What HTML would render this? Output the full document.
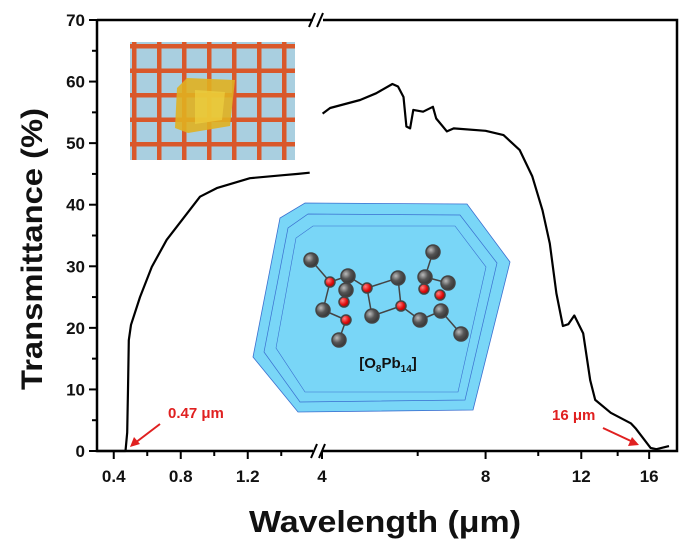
<!DOCTYPE html>
<html><head><meta charset="utf-8"><style>
body{margin:0;background:#fff}
svg text{font-family:"Liberation Sans",Arial,sans-serif;font-weight:bold}
</style></head><body>
<svg id="chart" width="685" height="542" viewBox="0 0 685 542" xmlns="http://www.w3.org/2000/svg">
<defs>
<pattern id="grid" x="130" y="42" width="25" height="24.5" patternUnits="userSpaceOnUse">
<rect width="25" height="24.5" fill="#a9cfe0"/>
<rect x="2" y="0" width="4.5" height="24.5" fill="#d9582a"/>
<rect x="0" y="2" width="25" height="4.5" fill="#d9582a"/>
</pattern>
<radialGradient id="ball" cx="0.35" cy="0.35" r="0.7"><stop offset="0" stop-color="#bbb"/><stop offset="0.5" stop-color="#555"/><stop offset="1" stop-color="#333"/></radialGradient>
<radialGradient id="oball" cx="0.35" cy="0.35" r="0.7"><stop offset="0" stop-color="#ff8080"/><stop offset="0.6" stop-color="#e01010"/><stop offset="1" stop-color="#a00"/></radialGradient>
</defs>
<g id="photo-inset">
<rect x="130" y="42" width="165" height="118" fill="url(#grid)"/>
<polygon points="187,78 235,80 230,126 188,133 175,128 177,88" fill="#e0b020" opacity="0.9"/>
<polygon points="195,90 225,92 222,120 195,124" fill="#eed040" opacity="0.7"/>
</g>
<g id="crystal">
<polygon points="305,203 467,204 510,262 473,410 298,412 253,357 280,218" fill="#79d6f7" stroke="#3a6fd0" stroke-width="0.8"/>
<polygon points="308,214 460,215 497,263 465,400 300,402 264,352 288,228" fill="none" stroke="#3a6fd0" stroke-width="0.7"/>
<polygon points="313,226 455,226 486,267 458,392 305,392 276,348 296,238" fill="none" stroke="#3a6fd0" stroke-width="0.6"/>
<g id="molecule" stroke="#444" stroke-width="1.5">
<line x1="311" y1="260" x2="330" y2="282"/><line x1="330" y1="282" x2="348" y2="276"/><line x1="330" y1="282" x2="323" y2="310"/><line x1="348" y1="276" x2="367" y2="288"/><line x1="367" y1="288" x2="398" y2="278"/><line x1="367" y1="288" x2="372" y2="316"/><line x1="372" y1="316" x2="401" y2="306"/><line x1="398" y1="278" x2="401" y2="306"/><line x1="401" y1="306" x2="420" y2="320"/><line x1="420" y1="320" x2="441" y2="311"/><line x1="441" y1="311" x2="461" y2="334"/><line x1="433" y1="252" x2="425" y2="277"/><line x1="425" y1="277" x2="448" y2="283"/><line x1="346" y1="320" x2="339" y2="340"/><line x1="323" y1="310" x2="346" y2="320"/>
<circle cx="311" cy="260" r="7" fill="url(#ball)"/><circle cx="433" cy="252" r="7" fill="url(#ball)"/><circle cx="348" cy="276" r="7" fill="url(#ball)"/><circle cx="398" cy="278" r="7" fill="url(#ball)"/><circle cx="425" cy="277" r="7" fill="url(#ball)"/><circle cx="448" cy="283" r="7" fill="url(#ball)"/><circle cx="346" cy="290" r="7" fill="url(#ball)"/><circle cx="323" cy="310" r="7" fill="url(#ball)"/><circle cx="372" cy="316" r="7" fill="url(#ball)"/><circle cx="420" cy="320" r="7" fill="url(#ball)"/><circle cx="441" cy="311" r="7" fill="url(#ball)"/><circle cx="461" cy="334" r="7" fill="url(#ball)"/><circle cx="339" cy="340" r="7" fill="url(#ball)"/>
<circle cx="330" cy="282" r="5" fill="url(#oball)"/><circle cx="367" cy="288" r="5" fill="url(#oball)"/><circle cx="401" cy="306" r="5" fill="url(#oball)"/><circle cx="346" cy="320" r="5" fill="url(#oball)"/><circle cx="344" cy="302" r="5" fill="url(#oball)"/><circle cx="424" cy="289" r="5" fill="url(#oball)"/><circle cx="440" cy="295" r="5" fill="url(#oball)"/>
</g>
<text x="388" y="368" font-size="15" text-anchor="middle" fill="#111">[O<tspan font-size="10" dy="4">8</tspan><tspan dy="-4">Pb</tspan><tspan font-size="10" dy="4">14</tspan><tspan dy="-4">]</tspan></text>
</g>
<g id="axes"></g>
<g id="series"></g>
<g id="annotations">
<text x="168" y="418" font-size="15" fill="#e02020">0.47 μm</text>
<line x1="160" y1="424" x2="135" y2="443" stroke="#e02020" stroke-width="2"/>
<polygon points="130,447 134,437 140,444" fill="#e02020"/>
<text x="552" y="420" font-size="15" fill="#e02020">16 μm</text>
<line x1="603" y1="428" x2="633" y2="442" stroke="#e02020" stroke-width="2"/>
<polygon points="639,445 628,446 632,437" fill="#e02020"/>
</g>
<text x="249" y="532" font-size="31" textLength="272" lengthAdjust="spacingAndGlyphs" fill="#111">Wavelength (μm)</text>
<text transform="translate(42,390) rotate(-90)" font-size="30" textLength="282" lengthAdjust="spacingAndGlyphs" fill="#111">Transmittance (%)</text>
</svg>
<script>
const yTicks=[0,10,20,30,40,50,60,70];
const xTicksLeft=[0.4,0.8,1.2];
const xTicksRight=[4,8,12,16];
const xMinorLeft=[0.6,1.0,1.4];
const xMinorRight=[6,10,14];
const leftX=[0.3,0.46,0.47,0.48,0.485,0.49,0.503,0.557,0.627,0.716,0.815,0.915,1.015,1.213,1.41,1.5,1.57];
const leftY=[0,0,0,3,10,18,20.5,25,29.9,34.3,37.8,41.3,42.7,44.3,44.8,45.0,45.2];
const rightX=[4.01,4.14,4.70,5.03,5.39,5.52,5.65,5.72,5.81,5.89,6.14,6.40,6.49,6.79,6.99,8.0,8.63,9.24,9.75,10.18,10.5,10.8,11.1,11.36,11.65,12.1,12.46,12.73,13.6,14.8,15.1,16.1,16.5,17.4];
const rightY=[54.8,55.7,57.0,58.1,59.6,59.2,57.5,52.7,52.4,55.4,55.1,55.9,54.0,51.9,52.4,52.0,51.3,48.9,44.6,39.1,33.7,25.6,20.3,20.6,22.0,19.1,11.5,8.3,6.2,4.5,3.7,0.5,0.3,0.8];
const X0=97,X1=677,Y0=451,Y1=20;
function ys(v){return Y0-(v/70)*(Y0-Y1);}
function xs(v){return v<=2? X0+(v-0.3)*167.5 : 322+236*Math.log(v/4);}
const NS='http://www.w3.org/2000/svg';
function mk(tag,attrs,parent){const e=document.createElementNS(NS,tag);for(const k in attrs)e.setAttribute(k,attrs[k]);parent.appendChild(e);return e;}
const ax=document.getElementById('axes');
const frame=mk('path',{d:`M${X0},${Y1}H313 M323,${Y1}H${X1}V${Y0}H323 M313,${Y0}H${X0}V${Y1}`,fill:'none',stroke:'#000','stroke-width':2.5},ax);


[[318,Y0],[316,Y1]].forEach(p=>{
 const b=mk('path',{d:`M${p[0]-7},${p[1]+7}L${p[0]-1},${p[1]-7} M${p[0]+1},${p[1]+7}L${p[0]+7},${p[1]-7}`,stroke:'#000','stroke-width':2,fill:'none'},ax);
 
 
});
yTicks.forEach(v=>{
 mk('line',{x1:X0-8,x2:X0,y1:ys(v),y2:ys(v),stroke:'#000','stroke-width':2},ax);
 const t=mk('text',{x:X0-12,y:ys(v)+6,'font-size':17,'text-anchor':'end',fill:'#111'},ax);
 t.textContent=v;
 
 
 if(v<70) mk('line',{x1:X0-5,x2:X0,y1:ys(v+5),y2:ys(v+5),stroke:'#000','stroke-width':2},ax);
});
xTicksLeft.concat(xTicksRight).forEach(v=>{
 mk('line',{x1:xs(v),x2:xs(v),y1:Y0,y2:Y0+8,stroke:'#000','stroke-width':2},ax);
 const t=mk('text',{x:xs(v),y:Y0+31,'font-size':17,'text-anchor':'middle',fill:'#111'},ax);
 t.textContent=v;
 
 
});
xMinorLeft.concat(xMinorRight).forEach(v=>{
 mk('line',{x1:xs(v),x2:xs(v),y1:Y0,y2:Y0+5,stroke:'#000','stroke-width':2},ax);
});
const sg=document.getElementById('series');
function line(xa,ya,name){
 const d=xa.map((x,i)=>(i?'L':'M')+xs(x).toFixed(1)+','+ys(ya[i]).toFixed(1)).join('');
 const p=mk('path',{d:d,fill:'none',stroke:'#000','stroke-width':2.2,'stroke-linejoin':'round'},sg);
 
 
}
line(leftX,leftY,'transmittance-curve-visible');
line(rightX,rightY,'transmittance-curve-infrared');
</script>
</body></html>
